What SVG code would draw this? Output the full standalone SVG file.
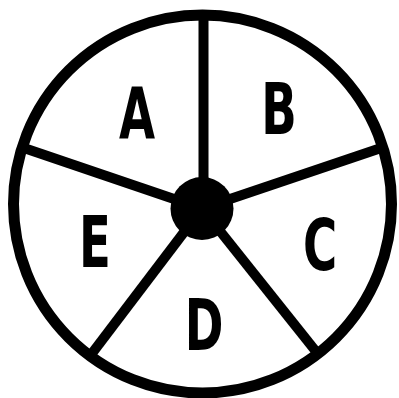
<svg xmlns="http://www.w3.org/2000/svg" width="399" height="398" viewBox="0 0 399 398">
<style>
.ring{fill:none;stroke:#000;stroke-width:11}
.spoke{stroke:#000;stroke-width:10;stroke-linecap:butt}
.lbl{font-family:"DejaVu Sans Condensed","DejaVu Sans",sans-serif;font-weight:bold;font-size:72px;fill:#000;text-anchor:middle}
</style>
<rect width="399" height="398" fill="#fff"/>
<g id="wheel">
<circle class="ring" cx="202.5" cy="204" r="189"/>
</g>
<g id="connectors">
<line class="spoke" x1="203.5" y1="208" x2="203.5" y2="15"/>
<line class="spoke" x1="202" y1="208.5" x2="384" y2="147"/>
<line class="spoke" x1="202" y1="208.5" x2="21" y2="147"/>
<line class="spoke" x1="202" y1="208.5" x2="90" y2="356"/>
<line class="spoke" x1="202" y1="208.5" x2="318" y2="354"/>
</g>
<g id="hub"><circle cx="202" cy="208.5" r="31.5" fill="#000"/></g>
<g id="A"><text class="lbl" transform="translate(137,138) scale(0.72,1)">A</text></g>
<g id="B"><text class="lbl" transform="translate(279,134) scale(0.72,1)">B</text></g>
<g id="C"><text class="lbl" transform="translate(320,270) scale(0.72,1)">C</text></g>
<g id="D"><text class="lbl" transform="translate(204,350) scale(0.72,1)">D</text></g>
<g id="E"><text class="lbl" transform="translate(95,267) scale(0.72,1)">E</text></g>
</svg>
